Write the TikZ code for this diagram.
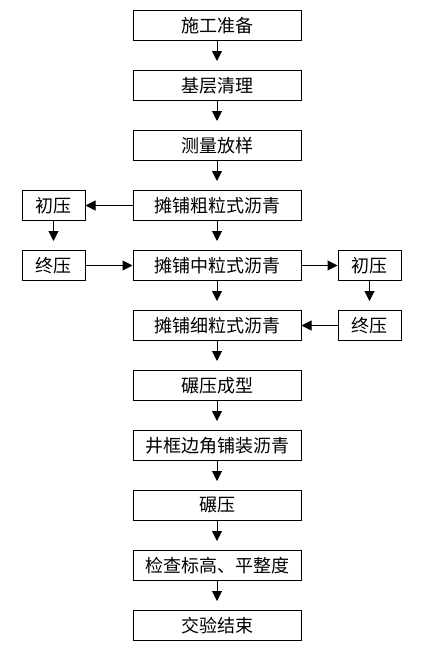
\documentclass[tikz,border=0pt]{standalone}
\usepackage{fontspec}
\newfontfamily\cjk{Noto Sans CJK SC}
\usetikzlibrary{arrows.meta, positioning}

\begin{document}
\begin{tikzpicture}[
  x=1pt, y=-1pt,
  mainbox/.style={rectangle, draw, line width=1pt, minimum width=168pt,
                  minimum height=30pt, inner sep=0pt, font=\cjk\fontsize{18}{18}\selectfont},
  sidebox/.style={rectangle, draw, line width=1pt, minimum width=63pt,
                  minimum height=30pt, inner sep=0pt, font=\cjk\fontsize{18}{18}\selectfont},
  flow/.style={-{Triangle[length=10pt, width=10pt]}, line width=1pt},
  down/.style={flow, shorten >=9pt}
]
\useasboundingbox (0,0) rectangle (429,653);
% main column
\node[mainbox] (prep)   at (217,25.5)  {施工准备};
\node[mainbox] (base)   at (217,85.5)  {基层清理};
\node[mainbox] (survey) at (217,145.5) {测量放样};
\node[mainbox] (coarse) at (217,205.5) {摊铺粗粒式沥青};
\node[mainbox] (medium) at (217,265.5) {摊铺中粒式沥青};
\node[mainbox] (fine)   at (217,325.5) {摊铺细粒式沥青};
\node[mainbox] (roll)   at (217,385.5) {碾压成型};
\node[mainbox] (frame)  at (217,445.5) {井框边角铺装沥青};
\node[mainbox] (press)  at (217,505.5) {碾压};
\node[mainbox] (check)  at (217,565.5) {检查标高、平整度};
\node[mainbox] (accept) at (217,625.5) {交验结束};
% compaction, left and right
\node[sidebox] (lfirst) at (53.5,205.5)  {初压};
\node[sidebox] (lfinal) at (53.5,265.5)  {终压};
\node[sidebox] (rfirst) at (369.5,265.5) {初压};
\node[sidebox] (rfinal) at (369.5,325.5) {终压};
% main flow
\draw[down] (prep) -- (base);
\draw[down] (base) -- (survey);
\draw[down] (survey) -- (coarse);
\draw[down] (coarse) -- (medium);
\draw[down] (medium) -- (fine);
\draw[down] (fine) -- (roll);
\draw[down] (roll) -- (frame);
\draw[down] (frame) -- (press);
\draw[down] (press) -- (check);
\draw[down] (check) -- (accept);
% side loops
\draw[flow] (coarse) -- (lfirst);
\draw[down] (lfirst) -- (lfinal);
\draw[flow] (lfinal) -- (medium);
\draw[flow] (medium) -- (rfirst);
\draw[down] (rfirst) -- (rfinal);
\draw[flow] (rfinal) -- (fine);
\end{tikzpicture}
\end{document}
